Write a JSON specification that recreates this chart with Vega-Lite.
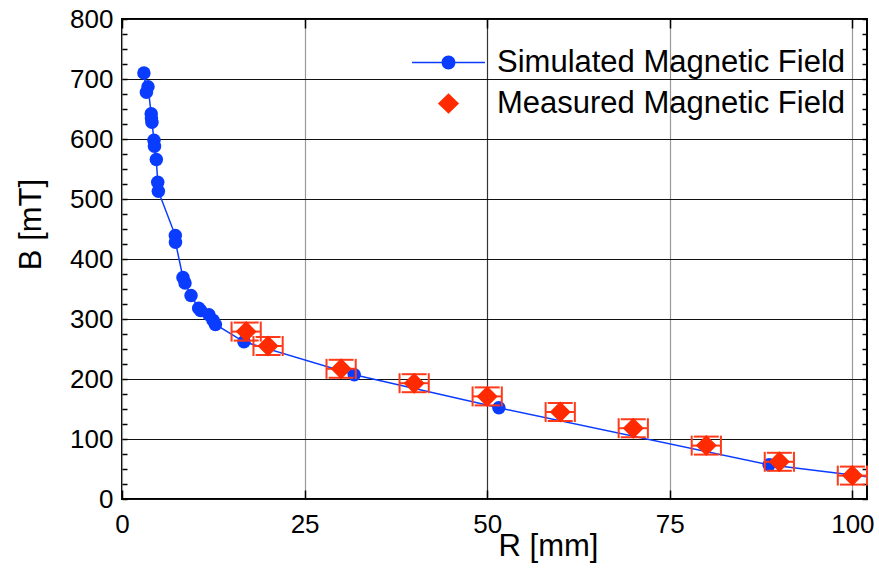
{
  "$schema": "https://vega.github.io/schema/vega-lite/v6.json",
  "width": 745,
  "height": 480,
  "autosize": {"type": "none"},
  "padding": {"left": 122, "top": 19, "right": 12, "bottom": 84},
  "background": "white",
  "datasets": {
    "sim": [
      {"R": 3.0, "B": 710, "series": "Simulated Magnetic Field"},
      {"R": 3.34, "B": 678, "series": "Simulated Magnetic Field"},
      {"R": 3.56, "B": 687, "series": "Simulated Magnetic Field"},
      {"R": 4.0, "B": 642, "series": "Simulated Magnetic Field"},
      {"R": 4.03, "B": 635, "series": "Simulated Magnetic Field"},
      {"R": 4.1, "B": 628, "series": "Simulated Magnetic Field"},
      {"R": 4.38, "B": 598, "series": "Simulated Magnetic Field"},
      {"R": 4.45, "B": 588, "series": "Simulated Magnetic Field"},
      {"R": 4.7, "B": 566, "series": "Simulated Magnetic Field"},
      {"R": 4.89, "B": 528, "series": "Simulated Magnetic Field"},
      {"R": 4.98, "B": 513, "series": "Simulated Magnetic Field"},
      {"R": 7.3, "B": 439, "series": "Simulated Magnetic Field"},
      {"R": 7.32, "B": 428, "series": "Simulated Magnetic Field"},
      {"R": 8.35, "B": 369, "series": "Simulated Magnetic Field"},
      {"R": 8.63, "B": 360, "series": "Simulated Magnetic Field"},
      {"R": 9.45, "B": 339, "series": "Simulated Magnetic Field"},
      {"R": 10.5, "B": 318, "series": "Simulated Magnetic Field"},
      {"R": 10.77, "B": 314, "series": "Simulated Magnetic Field"},
      {"R": 11.9, "B": 307, "series": "Simulated Magnetic Field"},
      {"R": 12.46, "B": 298, "series": "Simulated Magnetic Field"},
      {"R": 12.79, "B": 291, "series": "Simulated Magnetic Field"},
      {"R": 16.7, "B": 262, "series": "Simulated Magnetic Field"},
      {"R": 31.8, "B": 207, "series": "Simulated Magnetic Field"},
      {"R": 51.6, "B": 152, "series": "Simulated Magnetic Field"},
      {"R": 88.6, "B": 57, "series": "Simulated Magnetic Field"},
      {"R": 100, "B": 40, "series": "Simulated Magnetic Field"},
      {"R": 104, "B": 34, "series": "Simulated Magnetic Field"}
    ],
    "meas": [
      {"R": 17, "B": 279, "dR": 2, "dB": 15, "series": "Measured Magnetic Field"},
      {"R": 20, "B": 255, "dR": 2, "dB": 15, "series": "Measured Magnetic Field"},
      {"R": 30, "B": 217, "dR": 2, "dB": 15, "series": "Measured Magnetic Field"},
      {"R": 40, "B": 193, "dR": 2, "dB": 15, "series": "Measured Magnetic Field"},
      {"R": 50, "B": 171, "dR": 2, "dB": 15, "series": "Measured Magnetic Field"},
      {"R": 60, "B": 145, "dR": 2, "dB": 15, "series": "Measured Magnetic Field"},
      {"R": 70, "B": 118, "dR": 2, "dB": 15, "series": "Measured Magnetic Field"},
      {"R": 80, "B": 89, "dR": 2, "dB": 15, "series": "Measured Magnetic Field"},
      {"R": 90, "B": 62, "dR": 2, "dB": 15, "series": "Measured Magnetic Field"},
      {"R": 100, "B": 39, "dR": 2, "dB": 15, "series": "Measured Magnetic Field"}
    ]
  },
  "layer": [
    {
      "data": {"name": "sim"},
      "mark": {"type": "line", "clip": true, "strokeWidth": 1.5},
      "encoding": {
        "x": {
          "field": "R", "type": "quantitative",
          "scale": {"domain": [0, 102], "nice": false, "zero": false},
          "axis": {
            "orient": "bottom", "values": [0, 25, 50, 75, 100], "format": "d",
            "title": "R [mm]", "titleFontSize": 31, "titleFontWeight": "normal", "titleColor": "black",
            "titleX": 426, "titleY": 56, "titleAlign": "center", "titleBaseline": "alphabetic",
            "labelFontSize": 26, "labelColor": "black", "labelPadding": 21, "labelFlush": false, "labelOverlap": false,
            "tickSize": -9, "tickWidth": 1.5, "tickColor": "black",
            "grid": true, "gridWidth": 1.2,
            "gridColor": {"condition": {"test": "datum.value === 50", "value": "#333333"}, "value": "#9a9a9a"},
            "domain": false
          }
        },
        "y": {
          "field": "B", "type": "quantitative",
          "scale": {"domain": [0, 800], "nice": false},
          "axis": {
            "orient": "left",
            "values": [0, 25, 50, 75, 100, 125, 150, 175, 200, 225, 250, 275, 300, 325, 350, 375, 400, 425, 450, 475, 500, 525, 550, 575, 600, 625, 650, 675, 700, 725, 750, 775, 800],
            "labelExpr": "datum.value % 100 === 0 ? datum.label : ''",
            "title": "B [mT]", "titleFontSize": 31, "titleFontWeight": "normal", "titleColor": "black",
            "titleX": -82, "titleY": 205, "titleAngle": 270, "titleAlign": "center", "titleBaseline": "alphabetic",
            "labelFontSize": 26, "labelColor": "black", "labelPadding": 14, "labelFlush": false, "labelOverlap": false,
            "tickSize": -5, "tickWidth": 1.5, "tickColor": "black",
            "grid": true, "gridWidth": 1.2, "gridColor": "#111111",
            "gridOpacity": {"condition": {"test": "datum.value % 100 === 0", "value": 1}, "value": 0},
            "domain": false
          }
        },
        "color": {
          "field": "series", "type": "nominal",
          "scale": {"domain": ["Simulated Magnetic Field", "Measured Magnetic Field"], "range": ["#0a3cff", "#ff2a00"]},
          "legend": {
            "orient": "none", "legendX": 290, "legendY": 23, "direction": "vertical",
            "title": null, "padding": 0, "offset": 0,
            "symbolSize": 5329, "symbolStrokeWidth": 0, "labelOffset": 12,
            "labelFontSize": 31, "labelFont": "Liberation Sans", "labelColor": "black", "labelLimit": 0,
            "clipHeight": 41, "rowPadding": 0,
            "encode": {
              "symbols": {
                "update": {
                  "shape": {"signal": "datum.value === 'Simulated Magnetic Field' ? 'M-1,-0.022L1,-0.022L1,0.022L-1,0.022Z M-0.19,0A0.19,0.19,0,1,1,0.19,0A0.19,0.19,0,1,1,-0.19,0Z' : 'M0,-0.28L0.29,0L0,0.28L-0.29,0Z'"},
                  "fill": {"signal": "datum.value === 'Simulated Magnetic Field' ? '#0a3cff' : '#ff2a00'"},
                  "stroke": {"value": "transparent"},
                  "opacity": {"value": 1}
                }
              }
            }
          }
        }
      }
    },
    {
      "data": {"name": "sim"},
      "mark": {"type": "point", "shape": "circle", "filled": true, "size": 182, "opacity": 1, "strokeWidth": 0, "clip": true},
      "encoding": {
        "x": {"field": "R", "type": "quantitative", "axis": null},
        "y": {"field": "B", "type": "quantitative", "axis": null},
        "color": {"field": "series", "type": "nominal"}
      }
    },
    {
      "data": {"name": "meas"},
      "mark": {"type": "errorbar", "orient": "vertical", "color": "#ff3a1a",
               "ticks": {"size": 25, "thickness": 2, "opacity": 1, "color": "#ff3a1a"},
               "rule": {"strokeWidth": 2, "opacity": 1, "color": "#ff3a1a"}},
      "encoding": {
        "x": {"field": "R", "type": "quantitative", "axis": null},
        "y": {"field": "B", "type": "quantitative", "axis": null},
        "yError": {"field": "dB"}
      }
    },
    {
      "data": {"name": "meas"},
      "mark": {"type": "errorbar", "orient": "horizontal", "color": "#ff3a1a",
               "ticks": {"size": 20, "thickness": 2, "opacity": 1, "color": "#ff3a1a"},
               "rule": {"strokeWidth": 2, "opacity": 1, "color": "#ff3a1a"}},
      "encoding": {
        "x": {"field": "R", "type": "quantitative", "axis": null},
        "y": {"field": "B", "type": "quantitative", "axis": null},
        "xError": {"field": "dR"}
      }
    },
    {
      "data": {"name": "meas"},
      "mark": {"type": "point", "shape": "diamond", "filled": true, "size": 441, "opacity": 1, "strokeWidth": 0, "clip": true},
      "encoding": {
        "x": {
          "field": "R", "type": "quantitative",
          "axis": {"orient": "top", "values": [0, 25, 50, 75, 100], "labels": false, "title": null,
                   "tickSize": -9, "tickWidth": 1.5, "tickColor": "black", "grid": false, "domain": false}
        },
        "y": {
          "field": "B", "type": "quantitative",
          "axis": {"orient": "right",
                   "values": [0, 25, 50, 75, 100, 125, 150, 175, 200, 225, 250, 275, 300, 325, 350, 375, 400, 425, 450, 475, 500, 525, 550, 575, 600, 625, 650, 675, 700, 725, 750, 775, 800],
                   "labels": false, "title": null,
                   "tickSize": -5, "tickWidth": 1.5, "tickColor": "black", "grid": false, "domain": false}
        },
        "color": {"field": "series", "type": "nominal"}
      }
    }
  ],
  "resolve": {"axis": {"x": "independent", "y": "independent"}},
  "config": {
    "font": "Liberation Sans",
    "view": {"stroke": "black", "strokeWidth": 2}
  }
}
